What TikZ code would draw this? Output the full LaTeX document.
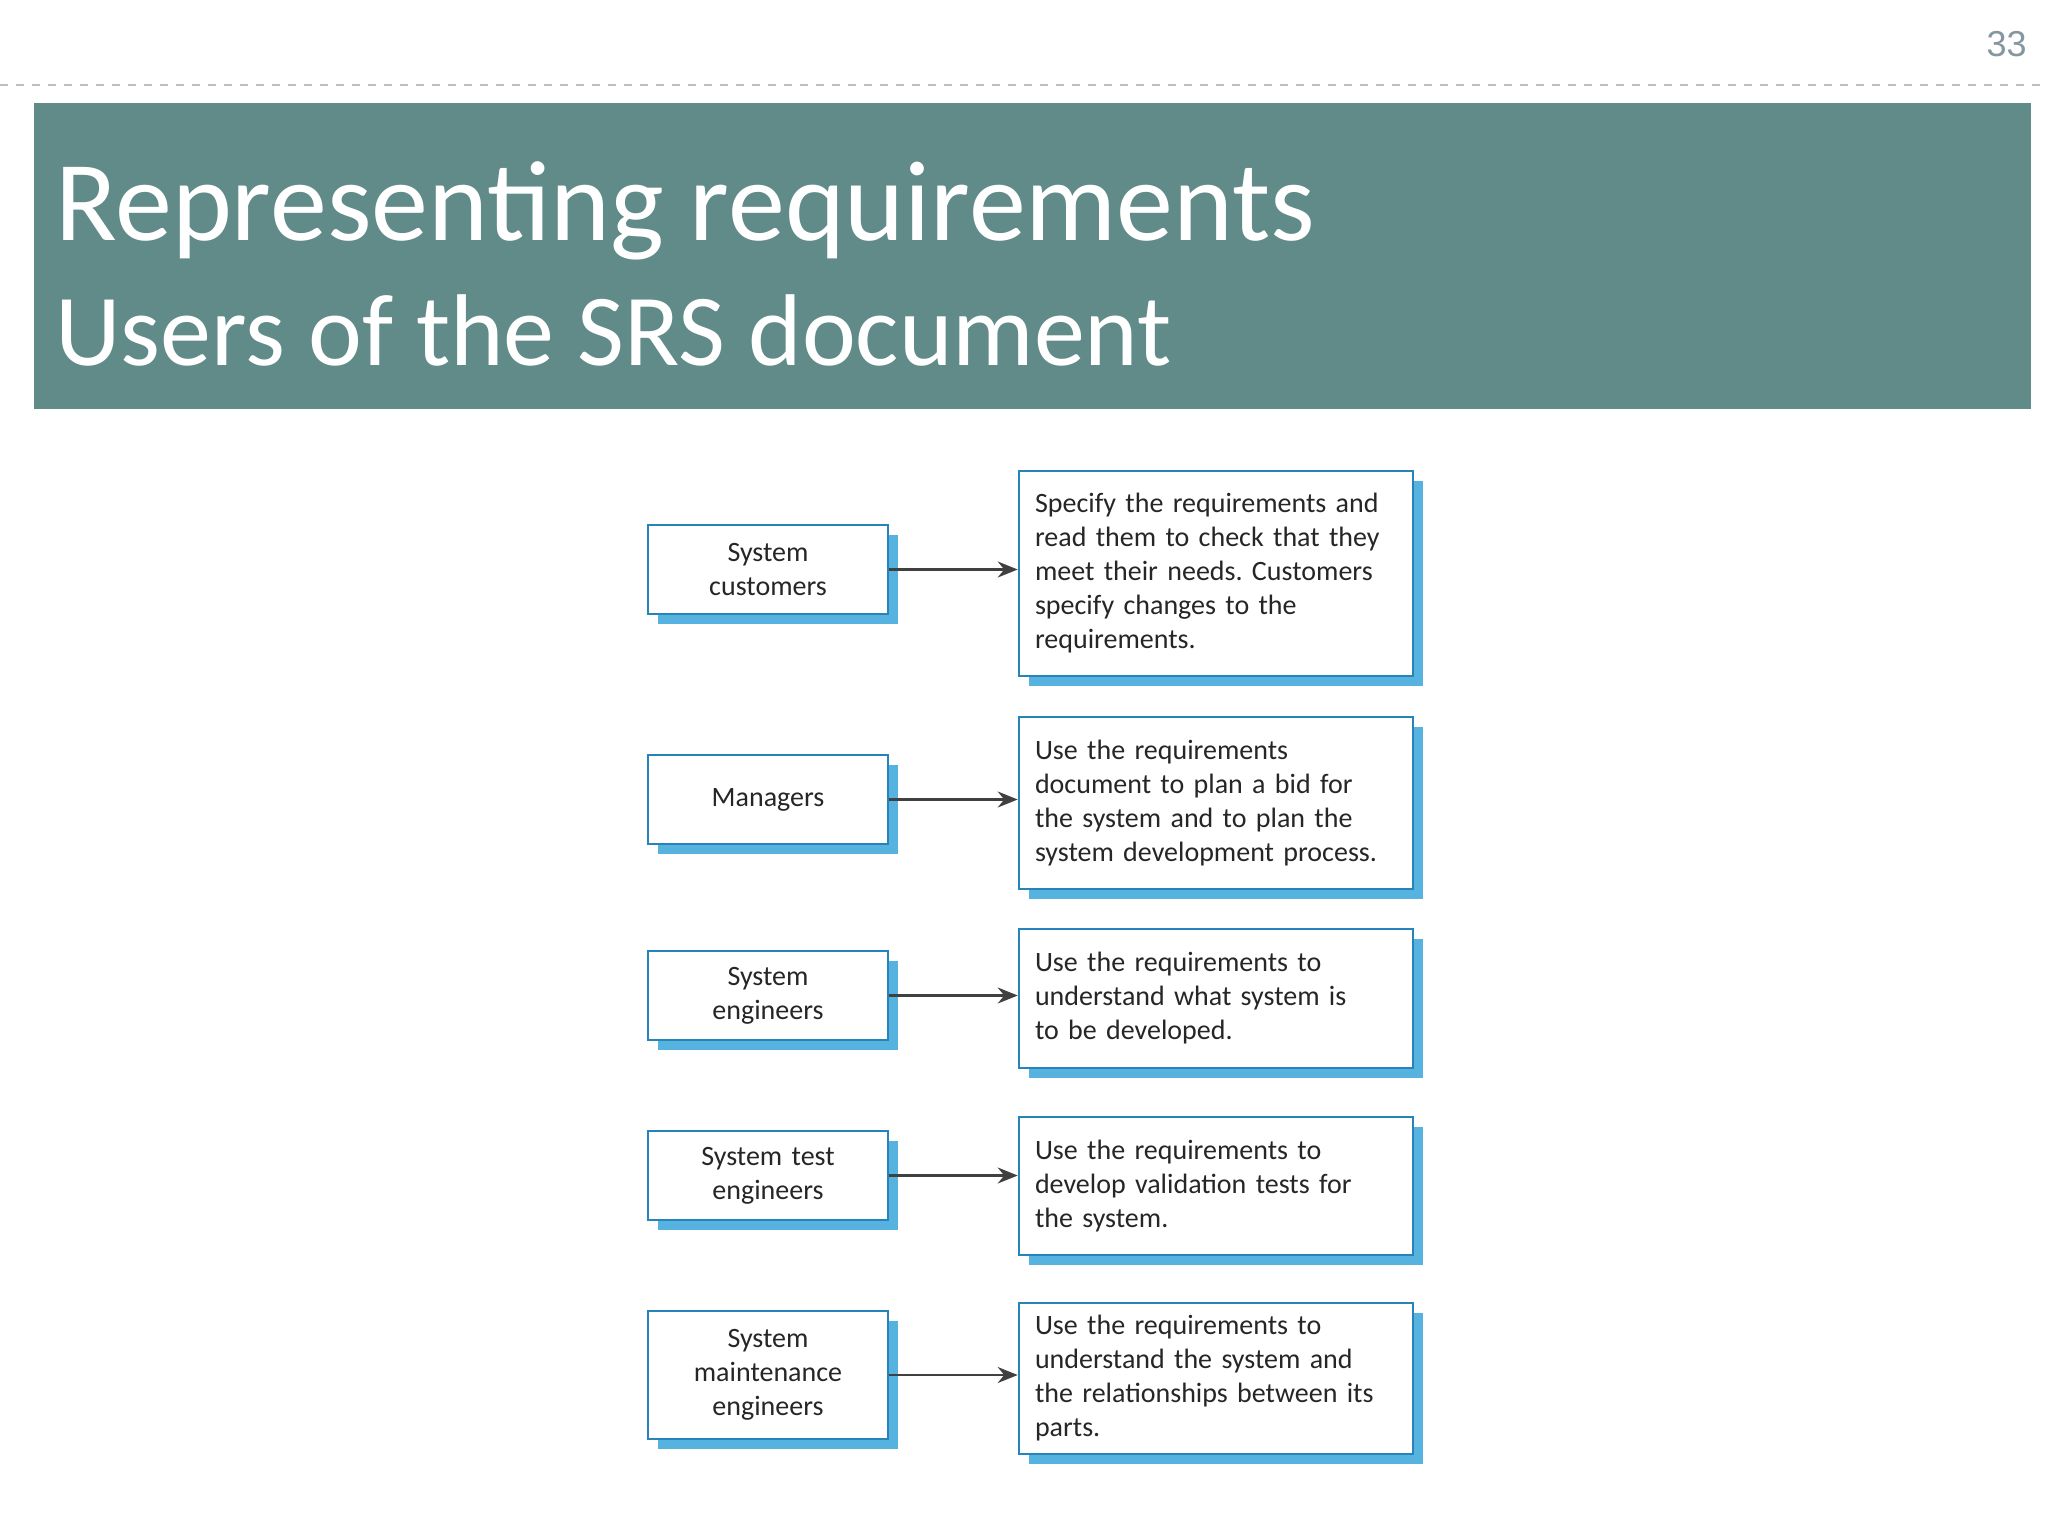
\documentclass[tikz,border=0pt]{standalone}
\usepackage{fontspec}
\setmainfont{Carlito}
\newfontfamily\numfont{Liberation Sans}
\frenchspacing
\usetikzlibrary{arrows.meta,shadows}
\definecolor{slate}{RGB}{96,139,136}
\definecolor{edgeblue}{RGB}{38,132,186}
\definecolor{shadeblue}{RGB}{86,178,222}
\definecolor{pagegrey}{RGB}{132,150,160}
\definecolor{dashgrey}{RGB}{190,190,190}
\tikzset{
  who/.style={draw=edgeblue, line width=1.3pt, fill=white, text=black!85,
    align=center, text width=110pt, minimum width=120pt, inner sep=0pt,
    font=\fontsize{14}{17}\selectfont,
    drop shadow={shadow xshift=5pt, shadow yshift=-5pt, fill=shadeblue, opacity=1}},
  task/.style={who, align=left, text width=181pt, minimum width=197pt},
  link/.style={draw=black!75, line width=1.1pt, -{Stealth[length=10pt,width=8pt]}}
}

\begin{document}
\begin{tikzpicture}[x=0.5pt,y=-0.5pt]
        \def\lx{768}
        \def\rx{1216}
        \useasboundingbox (0,0) rectangle (2048,1536);

        % page number and rule
        \node[anchor=base east, inner sep=0pt, text=pagegrey, font=\numfont\fontsize{18}{20}\selectfont] (pgnum) at (2027,57) {33};
        \draw[dashgrey, line width=1pt, dash pattern=on 4pt off 4pt] (0,85) -- (2048,85);

        % title bar
        \fill[slate] (34,103) rectangle (2031,409);
        \node[anchor=base west, inner sep=0pt, text=white, font=\fontsize{57}{60}\selectfont] (title) at (55,240) {Representing requirements};
        \node[anchor=base west, inner sep=0pt, text=white, font=\fontsize{51}{54}\selectfont] (subtitle) at (55,365) {Users of the SRS document};

        % users
        \node[who, minimum height=44.5pt] (cust) at (\lx,569.5) {System\\customers};
        \node[who, minimum height=44.5pt] (mgr) at (\lx,799.5) {Managers};
        \node[who, minimum height=44.5pt] (syseng) at (\lx,995.5) {System\\engineers};
        \node[who, minimum height=44.5pt] (testeng) at (\lx,1175.5) {System test\\engineers};
        \node[who, minimum height=64pt] (maineng) at (\lx,1375) {System\\maintenance\\engineers};

        % what they do with it
        \node[task, minimum height=102.5pt] (custuse) at (\rx,573.5) {Specify the requirements and\\read them to check that they\\meet their needs. Customers\\specify changes to the\\requirements.};
        \node[task, minimum height=86pt] (mgruse) at (\rx,803) {Use the requirements\\document to plan a bid for\\the system and to plan the\\system development process.};
        \node[task, minimum height=69.5pt] (sysenguse) at (\rx,998.5) {Use the requirements to\\understand what system is\\to be developed.};
        \node[task, minimum height=69pt] (testenguse) at (\rx,1186) {Use the requirements to\\develop validation tests for\\the system.};
        \node[task, minimum height=75.5pt] (mainenguse) at (\rx,1378.5) {Use the requirements to\\understand the system and\\the relationships between its\\parts.};

        % arrows
        \draw[link] (cust.east) -- (cust.east -| custuse.west);
        \draw[link] (mgr.east) -- (mgr.east -| mgruse.west);
        \draw[link] (syseng.east) -- (syseng.east -| sysenguse.west);
        \draw[link] (testeng.east) -- (testeng.east -| testenguse.west);
        \draw[link] (maineng.east) -- (maineng.east -| mainenguse.west);
\end{tikzpicture}
\end{document}
